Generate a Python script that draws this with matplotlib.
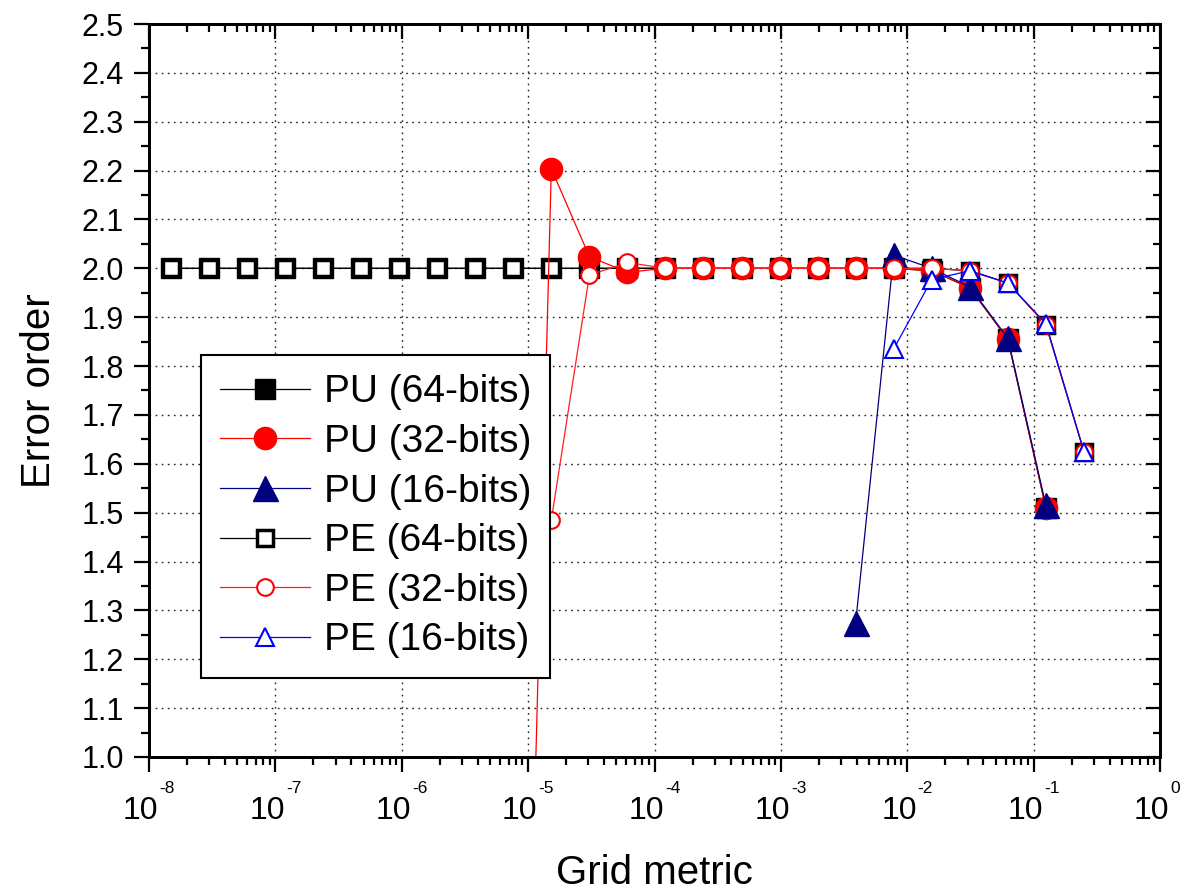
import numpy as np
import matplotlib
matplotlib.use("Agg")
import matplotlib.pyplot as plt
from matplotlib.ticker import LogLocator, MultipleLocator, NullFormatter, FixedLocator
from matplotlib.transforms import ScaledTranslation

plt.rcParams['font.family'] = ['Liberation Sans', 'DejaVu Sans']

N = None

# grid metric values (2^-26 ... 2^-2)
grid_metric = [1.490e-8, 2.980e-8, 5.960e-8, 1.192e-7, 2.384e-7, 4.768e-7, 9.537e-7,
               1.907e-6, 3.815e-6, 7.629e-6, 1.526e-5, 3.052e-5, 6.104e-5, 1.221e-4,
               2.441e-4, 4.883e-4, 9.766e-4, 1.953e-3, 3.906e-3, 7.813e-3, 1.5625e-2,
               3.125e-2, 6.25e-2, 0.125, 0.25]

pu_64 = [2.0, 2.0, 2.0, 2.0, 2.0, 2.0, 2.0, 2.0, 2.0, 2.0, 2.0, 2.0, 2.0, 2.0,
         2.0, 2.0, 2.0, 2.0, 2.0, 2.0, 1.995, 1.96, 1.855, 1.51, N]
pe_64 = [2.0, 2.0, 2.0, 2.0, 2.0, 2.0, 2.0, 2.0, 2.0, 2.0, 2.0, 2.0, 2.0, 2.0,
         2.0, 2.0, 2.0, 2.0, 2.0, 2.0, 2.0, 1.995, 1.97, 1.885, 1.625]
pu_32 = [N, N, N, N, N, N, N, N, N, -0.76, 2.204, 2.024, 1.992, 2.0,
         2.0, 2.0, 2.0, 2.0, 2.0, 2.0, 1.995, 1.96, 1.855, 1.51, N]
pe_32 = [N, N, N, N, N, N, N, N, N, N, 1.485, 1.986, 2.012, 2.0,
         2.0, 2.0, 2.0, 2.0, 2.0, 2.0, 2.0, 1.995, 1.97, 1.885, 1.625]
pu_16 = [N, N, N, N, N, N, N, N, N, N, N, N, N, N,
         N, N, N, N, 1.275, 2.027, 2.0, 1.962, 1.857, 1.515, N]
pe_16 = [N, N, N, N, N, N, N, N, N, N, N, N, N, N,
         N, N, N, N, N, 1.835, 1.977, 1.995, 1.97, 1.887, 1.625]

decades = [-8, -7, -6, -5, -4, -3, -2, -1, 0]

fig = plt.figure(figsize=(11.83, 8.93), dpi=100)
ax = fig.add_axes([149 / 1183, 1 - 757 / 893, (1160 - 149) / 1183, (757 - 24) / 893])

x = np.array(grid_metric)
lw = 0.9

# draw order chosen to match the overlap in the original
h_pu64, = ax.plot(x, np.array(pu_64, dtype=float), '-', color='black', lw=lw,
                  marker='s', ms=15, mfc='black', mec='black', zorder=3, label='PU (64-bits)')
h_pe64, = ax.plot(x, np.array(pe_64, dtype=float), '-', color='black', lw=lw,
                  marker='s', ms=11, mfc='white', mec='black', mew=2.5, zorder=4, label='PE (64-bits)')
h_pu32, = ax.plot(x, np.array(pu_32, dtype=float), '-', color='red', lw=lw,
                  marker='o', ms=16, mfc='red', mec='red', zorder=5, label='PU (32-bits)')
h_pu16, = ax.plot(x, np.array(pu_16, dtype=float), '-', color='#000080', lw=lw,
                  marker='^', ms=18, mfc='#000080', mec='#000080', zorder=6, label='PU (16-bits)')
h_pe32, = ax.plot(x, np.array(pe_32, dtype=float), '-', color='#ff2020', lw=lw,
                  marker='o', ms=12, mfc='white', mec='red', mew=1.5, zorder=7, label='PE (32-bits)')
h_pe16, = ax.plot(x, np.array(pe_16, dtype=float), '-', color='blue', lw=lw,
                  marker='^', ms=13, mfc='white', mec='blue', mew=1.5, zorder=8, label='PE (16-bits)')

ax.set_xscale('log')
ax.set_xlim(1e-8, 1)
ax.set_ylim(1.0, 2.5)

ax.set_xticks([10.0 ** d for d in decades])
ax.set_xticklabels(['10'] * len(decades))
ax.xaxis.set_minor_locator(LogLocator(base=10, subs=np.arange(2, 10), numticks=100))
ax.xaxis.set_minor_formatter(NullFormatter())
ax.yaxis.set_major_locator(MultipleLocator(0.1))
ax.yaxis.set_minor_locator(MultipleLocator(0.05))
ax.set_yticklabels([f'{v:.1f}' for v in ax.get_yticks()])

ax.tick_params(which='both', direction='out', top=False, right=False, width=1.6)
ax.tick_params(which='major', length=11)
ax.tick_params(which='minor', length=6)
ax.tick_params(axis='y', labelsize=22, pad=7)
ax.tick_params(axis='x', labelsize=23, pad=17)
for lab in ax.get_xticklabels():
    lab.set_transform(lab.get_transform() + ScaledTranslation(-6 / 72, 0, fig.dpi_scale_trans))

# exponents of the decade labels
for d in decades:
    ax.annotate(str(d), xy=(10.0 ** d, 0), xycoords=('data', 'axes fraction'),
                xytext=(7.5, -17.5), textcoords='offset points',
                ha='left', va='top', fontsize=12.5, annotation_clip=False)

for s in ax.spines.values():
    s.set_linewidth(2.0)

ax.grid(True, which='major', color='#222222', linestyle=(0, (1.2, 3.2)), linewidth=1.0)
ax.set_axisbelow(True)

# inward ticks on top and right
ax_top = ax.twiny()
ax_top.set_xscale('log')
ax_top.set_xlim(ax.get_xlim())
ax_top.xaxis.set_major_locator(FixedLocator([10.0 ** d for d in decades]))
ax_top.xaxis.set_minor_locator(LogLocator(base=10, subs=np.arange(2, 10), numticks=100))
ax_top.tick_params(which='both', direction='in', labeltop=False, width=1.6)
ax_top.tick_params(which='major', length=11)
ax_top.tick_params(which='minor', length=6)

ax_right = ax.twinx()
ax_right.set_ylim(ax.get_ylim())
ax_right.yaxis.set_major_locator(MultipleLocator(0.1))
ax_right.yaxis.set_minor_locator(MultipleLocator(0.05))
ax_right.tick_params(which='both', direction='in', labelright=False, width=1.6)
ax_right.tick_params(which='major', length=10)
ax_right.tick_params(which='minor', length=5)
for a in (ax_top, ax_right):
    for s in a.spines.values():
        s.set_linewidth(2.0)

ax.set_xlabel('Grid metric', fontsize=29)
ax.set_ylabel('Error order', fontsize=29)
ax.xaxis.set_label_coords(0.5, -0.133)
ax.yaxis.set_label_coords(-0.09, 0.5)

leg = ax.legend(handles=[h_pu64, h_pu32, h_pu16, h_pe64, h_pe32, h_pe16],
                loc='upper left', bbox_to_anchor=(201 / 1183, 1 - 355 / 893),
                bbox_transform=fig.transFigure, borderaxespad=0, fontsize=28, numpoints=1,
                handlelength=2.3, handletextpad=0.35, borderpad=0.5,
                labelspacing=0.35, fancybox=False, framealpha=1,
                edgecolor='black')
leg.get_frame().set_linewidth(1.5)
leg.set_zorder(20)

fig.savefig('out.png', dpi=100)
